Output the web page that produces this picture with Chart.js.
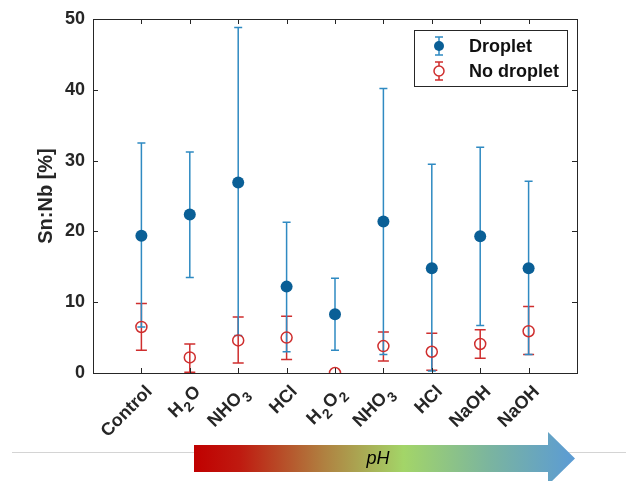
<!DOCTYPE html>
<html>
<head>
<meta charset="utf-8">
<script src="https://cdn.jsdelivr.net/npm/chart.js@4.4.0/dist/chart.umd.min.js"></script>
<style>
  html, body { margin: 0; padding: 0; background: #fff; }
  #wrap { width: 626px; height: 481px; }
</style>
</head>
<body>
<div id="wrap"><canvas id="myChart" width="626" height="481"></canvas></div>
<script>
// categories (underscore + digit = subscript)
const categories = ["Control", "H_2O", "NHO_3", "HCl", "H_2O_2", "NHO_3", "HCl", "NaOH", "NaOH"];

// Droplet series: mean, lower end, upper end of error bar
const dropletMean = [19.4, 22.4, 26.9, 12.2, 8.3, 21.4, 14.8, 19.3, 14.8];
const dropletLow  = [6.5, 13.5, 5.3, 3.0, 3.2, 2.6, 0.3, 6.7, 2.6];
const dropletHigh = [32.5, 31.2, 48.8, 21.3, 13.4, 40.2, 29.5, 31.9, 27.1];

// No droplet series
const noDropMean = [6.5, 2.2, 4.6, 5.0, 0, 3.8, 3.0, 4.1, 5.9];
const noDropLow  = [3.2, 0.1, 1.4, 1.9, 0, 1.7, 0.4, 2.1, 2.6];
const noDropHigh = [9.8, 4.1, 7.9, 8.0, 0, 5.8, 5.6, 6.1, 9.4];

const yTicks = [0, 10, 20, 30, 40, 50];

const BLUE = "#0a5f96";
const BLUE_BAR = "#2f8ac2";
const RED = "#cf2e2e";
const AXIS = "#262626";
const FONT = "'Liberation Sans', Arial, sans-serif";

const toPoints = (vals) => vals.map((v, i) => ({ x: i + 1, y: v }));

// error bars, axis box, ticks, labels, legend, pH arrow
const decorations = {
  id: "decorations",
  beforeDatasetsDraw(chart) {
    const ctx = chart.ctx;
    const xs = chart.scales.x;
    const ys = chart.scales.y;
    function bars(low, high, color, cap) {
      ctx.save();
      ctx.strokeStyle = color;
      ctx.lineWidth = 1.5;
      low.forEach((lo, i) => {
        const hi = high[i];
        if (hi === lo) return;
        const px = xs.getPixelForValue(i + 1);
        const y1 = ys.getPixelForValue(lo);
        const y2 = ys.getPixelForValue(hi);
        ctx.beginPath();
        ctx.moveTo(px, y1); ctx.lineTo(px, y2);
        ctx.moveTo(px - cap, y1); ctx.lineTo(px + cap, y1);
        ctx.moveTo(px - cap, y2); ctx.lineTo(px + cap, y2);
        ctx.stroke();
      });
      ctx.restore();
    }
    bars(noDropLow, noDropHigh, RED, 5.5);
    bars(dropletLow, dropletHigh, BLUE_BAR, 4);
  },
  afterDraw(chart) {
    const ctx = chart.ctx;
    const a = chart.chartArea;
    const xs = chart.scales.x;
    const ys = chart.scales.y;

    // axis box
    ctx.save();
    ctx.strokeStyle = AXIS;
    ctx.lineWidth = 1;
    ctx.strokeRect(Math.round(a.left) + 0.5, Math.round(a.top) + 0.5,
      Math.round(a.right - a.left), Math.round(a.bottom - a.top));
    // inward ticks
    ctx.beginPath();
    yTicks.forEach((t) => {
      const py = Math.round(ys.getPixelForValue(t)) + 0.5;
      ctx.moveTo(a.left, py); ctx.lineTo(a.left + 5, py);
      ctx.moveTo(a.right, py); ctx.lineTo(a.right - 5, py);
    });
    categories.forEach((c, i) => {
      const px = Math.round(xs.getPixelForValue(i + 1)) + 0.5;
      ctx.moveTo(px, a.bottom); ctx.lineTo(px, a.bottom - 5);
      ctx.moveTo(px, a.top); ctx.lineTo(px, a.top + 5);
    });
    ctx.stroke();

    // x labels, rotated 45deg, with subscripts
    ctx.fillStyle = AXIS;
    ctx.textBaseline = "middle";
    ctx.textAlign = "left";
    categories.forEach((c, i) => {
      const parts = c.split(/_(\d)/);
      const pieces = parts.map((p, k) => ({ text: p, sub: k % 2 === 1 }))
        .filter((p) => p.text.length);
      let w = 0;
      pieces.forEach((p) => {
        ctx.font = "bold " + (p.sub ? 14 : 18) + "px " + FONT;
        p.w = ctx.measureText(p.text).width + (p.sub ? 2 : 0);
        w += p.w;
      });
      const px = xs.getPixelForValue(i + 1);
      ctx.save();
      ctx.translate(px + 8, a.bottom + 16);
      ctx.rotate(-Math.PI / 4);
      let cx = -w;
      pieces.forEach((p) => {
        ctx.font = "bold " + (p.sub ? 14 : 18) + "px " + FONT;
        ctx.fillText(p.text, cx + (p.sub ? 1 : 0), p.sub ? 7 : 0);
        cx += p.w;
      });
      ctx.restore();
    });

    // y title
    ctx.save();
    ctx.translate(46, (a.top + a.bottom) / 2);
    ctx.rotate(-Math.PI / 2);
    ctx.font = "bold 20px " + FONT;
    ctx.textAlign = "center";
    ctx.textBaseline = "middle";
    ctx.fillText("Sn:Nb [%]", 0, 0);
    ctx.restore();

    // legend
    const lx = 414, ly = 30, lw = 153, lh = 56;
    ctx.fillStyle = "#fff";
    ctx.fillRect(lx, ly, lw, lh);
    ctx.strokeStyle = AXIS;
    ctx.strokeRect(lx + 0.5, ly + 0.5, lw, lh);
    const items = [
      { label: "Droplet", color: BLUE_BAR, fill: BLUE, y: 46 },
      { label: "No droplet", color: RED, fill: null, y: 71 }
    ];
    items.forEach((it) => {
      const mx = 439;
      ctx.strokeStyle = it.color;
      ctx.lineWidth = 1.5;
      ctx.beginPath();
      ctx.moveTo(mx, it.y - 9); ctx.lineTo(mx, it.y + 9);
      ctx.moveTo(mx - 4, it.y - 9); ctx.lineTo(mx + 4, it.y - 9);
      ctx.moveTo(mx - 4, it.y + 9); ctx.lineTo(mx + 4, it.y + 9);
      ctx.stroke();
      ctx.beginPath();
      ctx.arc(mx, it.y, 5, 0, Math.PI * 2);
      if (it.fill) { ctx.fillStyle = it.fill; ctx.fill(); }
      else { ctx.fillStyle = "#fff"; ctx.fill(); ctx.stroke(); }
      ctx.fillStyle = "#111";
      ctx.font = "bold 18px " + FONT;
      ctx.textAlign = "left";
      ctx.textBaseline = "middle";
      ctx.fillText(it.label, 469, it.y + 1);
    });

    // gray rule and pH arrow
    ctx.strokeStyle = "#d4d4d4";
    ctx.lineWidth = 1;
    ctx.beginPath();
    ctx.moveTo(12, 452.5); ctx.lineTo(626, 452.5);
    ctx.stroke();
    const x0 = 194, x1 = 548, tip = 575;
    const grad = ctx.createLinearGradient(x0, 0, tip, 0);
    grad.addColorStop(0, "#c00000");
    grad.addColorStop(0.12, "#bf1a10");
    grad.addColorStop(0.34, "#b08040");
    grad.addColorStop(0.55, "#a3d568");
    grad.addColorStop(0.78, "#7ab4a0");
    grad.addColorStop(1, "#5b9bd5");
    ctx.fillStyle = grad;
    ctx.beginPath();
    ctx.moveTo(x0, 445); ctx.lineTo(x1, 445); ctx.lineTo(x1, 432);
    ctx.lineTo(tip, 458.5); ctx.lineTo(x1, 485); ctx.lineTo(x1, 472);
    ctx.lineTo(x0, 472); ctx.closePath();
    ctx.fill();
    ctx.fillStyle = "#000";
    ctx.font = "italic 18px " + FONT;
    ctx.textAlign = "center";
    ctx.textBaseline = "middle";
    ctx.fillText("pH", 378, 459);
    ctx.restore();
  }
};

const ctx = document.getElementById("myChart");
new Chart(ctx, {
  type: "scatter",
  data: {
    datasets: [
      {
        label: "Droplet",
        data: toPoints(dropletMean),
        pointRadius: 6,
        pointBackgroundColor: BLUE,
        pointBorderColor: BLUE,
        pointBorderWidth: 0,
        showLine: false,
      },
      {
        label: "No droplet",
        data: toPoints(noDropMean),
        pointRadius: 5.5,
        pointBackgroundColor: "rgba(0,0,0,0)",
        pointBorderColor: RED,
        pointBorderWidth: 1.5,
        showLine: false,
      },
    ],
  },
  options: {
    responsive: false,
    animation: false,
    devicePixelRatio: 1,
    layout: { padding: { top: 19, right: 49, left: 0, bottom: 0 } },
    scales: {
      x: {
        type: "linear",
        min: 0,
        max: 10,
        grid: { display: false },
        border: { display: false },
        ticks: { display: false },
        afterFit: (scale) => { scale.height = 108; },
      },
      y: {
        min: 0,
        max: 50,
        grid: { display: false, drawTicks: false },
        border: { display: false },
        afterBuildTicks: (scale) => { scale.ticks = yTicks.map((v) => ({ value: v })); },
        ticks: {
          color: AXIS,
          padding: 8,
          font: { family: FONT, size: 18, weight: "bold" },
        },
        afterFit: (scale) => { scale.width = 93; },
      },
    },
    plugins: {
      legend: { display: false },
      tooltip: { enabled: false },
    },
  },
  plugins: [decorations],
});
</script>
</body>
</html>
